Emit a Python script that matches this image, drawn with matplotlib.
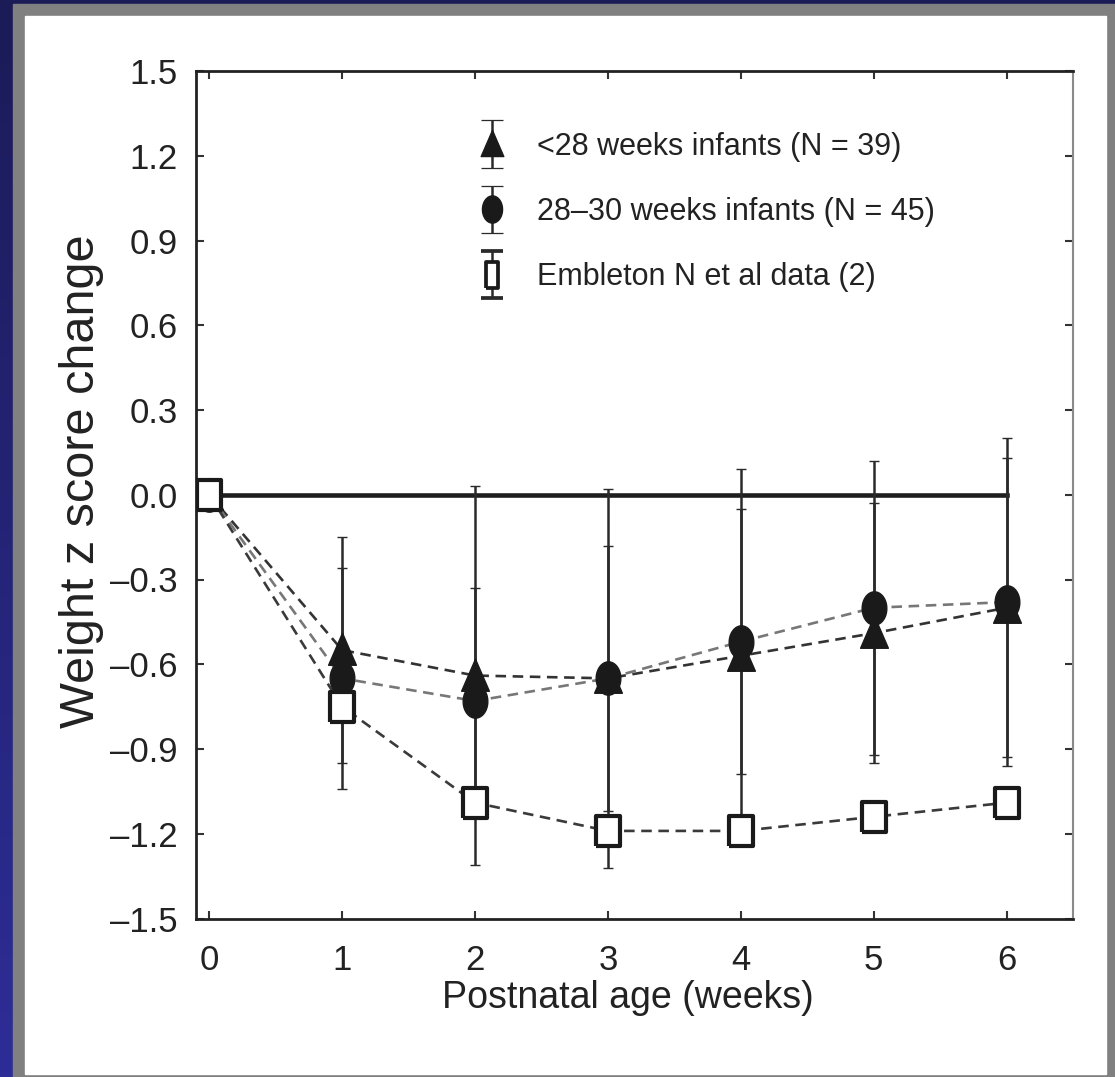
import numpy as np
import matplotlib.pyplot as plt
from matplotlib.patches import Rectangle
from matplotlib.colors import LinearSegmentedColormap
from matplotlib.container import ErrorbarContainer
from matplotlib.legend_handler import HandlerErrorbar

weeks = [0, 1, 2, 3, 4, 5, 6]

# <28 weeks infants
lt28_mean = [0.0, -0.55, -0.64, -0.65, -0.57, -0.49, -0.40]
lt28_sd = [0.0, 0.40, 0.67, 0.67, 0.66, 0.46, 0.53]

# 28-30 weeks infants
w2830_mean = [0.0, -0.65, -0.73, -0.65, -0.52, -0.40, -0.38]
w2830_sd = [0.0, 0.39, 0.40, 0.47, 0.47, 0.52, 0.58]

# Embleton N et al
emb_mean = [0.0, -0.75, -1.09, -1.19, -1.19, -1.14, -1.09]
emb_sd = [0.0, 0.0, 0.0, 0.0, 0.0, 0.0, 0.0]

labels = ["<28 weeks infants (N = 39)",
          "28\u201330 weeks infants (N = 45)",
          "Embleton N et al data (2)"]

yticks = [-1.5, -1.2, -0.9, -0.6, -0.3, 0.0, 0.3, 0.6, 0.9, 1.2, 1.5]
ytick_labels = ["\u20131.5", "\u20131.2", "\u20130.9", "\u20130.6", "\u20130.3",
                "0.0", "0.3", "0.6", "0.9", "1.2", "1.5"]

plt.rcParams['font.family'] = ['Liberation Sans', 'DejaVu Sans']
txt = '#222222'

W, H = 1115, 1077
fig = plt.figure(figsize=(W / 100, H / 100), dpi=100)

# slide background: navy gradient, grey frame, white card
bg = fig.add_axes([0, 0, 1, 1])
grad = np.linspace(0, 1, 256).reshape(-1, 1)
cmap = LinearSegmentedColormap.from_list('navy', ['#1b1b58', '#2d2d97'])
bg.imshow(grad, aspect='auto', cmap=cmap, extent=[0, 1, 0, 1], origin='upper')
bg.add_patch(Rectangle((13 / W, 0), 1, 1 - 4 / H, color='#808080', transform=bg.transAxes))
bg.add_patch(Rectangle((25 / W, 3 / H), (1106 - 25) / W, (1074 - 16) / H,
                       color='white', transform=bg.transAxes))
bg.set_xlim(0, 1)
bg.set_ylim(0, 1)
bg.axis('off')

ax = fig.add_axes([196 / W, 1 - 918.5 / H, (1073 - 196) / W, (918.5 - 71) / H])
ax.set_facecolor('white')

# tall marker shapes (the source figure is stretched vertically)
t = np.linspace(0, 2 * np.pi, 60)
ellipse = list(zip(0.74 * np.cos(t), np.sin(t)))
tri = [(0, 1), (-0.8, -0.85), (0.8, -0.85), (0, 1)]
rect = [(-0.76, -1), (0.76, -1), (0.76, 1), (-0.76, 1), (-0.76, -1)]
rect_leg = [(-0.5, -1), (0.5, -1), (0.5, 1), (-0.5, 1), (-0.5, -1)]

ax.plot([weeks[0], weeks[-1]], [0, 0], color='#1e1e1e', lw=3.3, zorder=2)

series = [
    (lt28_mean, lt28_sd, tri, tri, 25, '#1a1a1a', 1, '#333333'),
    (w2830_mean, w2830_sd, ellipse, ellipse, 24, '#1a1a1a', 1, '#777777'),
    (emb_mean, emb_sd, rect, rect_leg, 22, 'white', 3, '#3a3a3a'),
]
handles = []
for (m, sd, mk, mk_leg, ms, fc, mew, lc), lab in zip(series, labels):
    ax.plot(weeks, m, color=lc, lw=1.9, ls=(0, (4, 2.5)), zorder=3)
    ax.errorbar(weeks, m, yerr=sd, ls='none', marker=mk, ms=ms, mfc=fc,
                mec='#1a1a1a', mew=mew, ecolor='#2a2a2a', elinewidth=1.8,
                capsize=3.5, capthick=1.8, zorder=4)
    # legend-only handle with wider caps
    h = ax.errorbar([np.nan], [np.nan], yerr=[0], ls='none', marker=mk_leg,
                    ms=ms * 0.82, mfc=fc, mec='#1a1a1a', mew=mew * 0.9,
                    ecolor='#2a2a2a', elinewidth=1.8, capsize=8, capthick=1.8,
                    label=lab)
    handles.append(h)

ax.set_xlim(-0.1, 6.5)
ax.set_ylim(-1.5, 1.5)
ax.set_xticks(weeks)
ax.set_xticklabels([str(w) for w in weeks])
ax.set_yticks(yticks)
ax.set_yticklabels(ytick_labels)

ax.tick_params(direction='in', length=6, width=1.5, color='#333333',
               top=True, right=True, labelsize=25, labelcolor=txt)
ax.tick_params(axis='y', pad=13)
ax.tick_params(axis='x', pad=18)

for s in ['left', 'bottom', 'top']:
    ax.spines[s].set_linewidth(2)
    ax.spines[s].set_color('#222222')
ax.spines['right'].set_linewidth(1.5)
ax.spines['right'].set_color('#8a8a8a')

ax.set_xlabel("Postnatal age (weeks)", fontsize=27, color=txt)
ax.xaxis.set_label_coords(0.4926, -0.073)
ax.set_ylabel("Weight z score change", fontsize=35, color=txt)
ax.yaxis.set_label_coords(-0.105, 0.516)

leg = ax.legend(handles=handles, loc='upper left', bbox_to_anchor=(0.324, 0.928),
                frameon=False, borderpad=0, borderaxespad=0, handlelength=0.8,
                handletextpad=1.05, labelspacing=1.15,
                handler_map={ErrorbarContainer: HandlerErrorbar(yerr_size=0.78)},
                prop={'size': 22})
for tx in leg.get_texts():
    tx.set_color(txt)

fig.savefig('out.png', dpi=100)
